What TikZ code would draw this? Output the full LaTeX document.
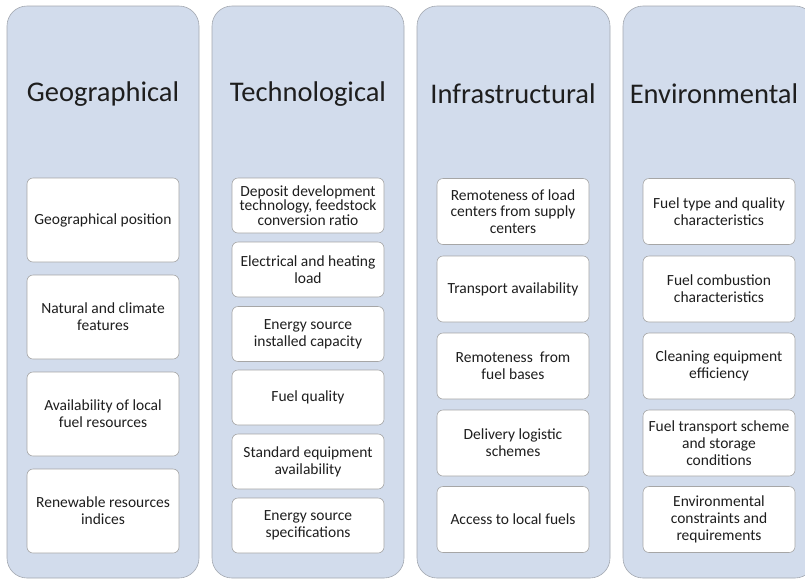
\documentclass[tikz,border=0pt]{standalone}
\usepackage{fontspec}
\setmainfont{Carlito}
\definecolor{colfill}{HTML}{D2DCEC}
\definecolor{colline}{HTML}{A3A8B0}
\definecolor{boxline}{HTML}{A6A6A6}
\definecolor{ink}{HTML}{1E1E1E}
\begin{document}
\begin{tikzpicture}[x=1pt,y=-1pt,
		column/.style={fill=colfill,draw=colline,line width=0.6pt,rounded corners=20pt},
		heading/.style={text=ink,font=\fontsize{28.5}{32}\selectfont},
		factor/.style={draw=boxline,fill=white,line width=0.6pt,rounded corners=6pt,
			text=ink,align=center,minimum width=152pt,inner sep=1pt,
			font=\fontsize{15.5}{16.8}\selectfont},
		tall/.style={factor,minimum height=84pt},
		short/.style={factor,minimum height=55pt},
		mid/.style={factor,minimum height=66pt}]
		\useasboundingbox (0,0) rectangle (805,579);

		\draw[column] (7,6) rectangle (199,578);
		\draw[column] (212,6) rectangle (404,578);
		\draw[column] (417,6) rectangle (610,578);
		\draw[column] (623,6) rectangle (815,578);

		\node[heading] (geo) at (103,94) {Geographical};
		\node[heading] (tech) at (308,94) {Technological};
		\node[heading] (infra) at (513,94) {Infrastructural};
		\node[heading] (env) at (714,94) {Environmental};

		\node[tall] (geo1) at (103,220) {Geographical position};
		\node[tall] (geo2) at (103,317) {Natural and climate\\features};
		\node[tall] (geo3) at (103,414) {Availability of local\\fuel resources};
		\node[tall] (geo4) at (103,511) {Renewable resources\\indices};

		\node[short,font=\fontsize{15.5}{14.3}\selectfont] (tech1) at (308,205.5) {Deposit development\\technology, feedstock\\conversion ratio};
		\node[short] (tech2) at (308,269.5) {Electrical and heating\\load};
		\node[short] (tech3) at (308,334) {Energy source\\installed capacity};
		\node[short] (tech4) at (308,397.5) {Fuel quality};
		\node[short] (tech5) at (308,461.5) {Standard equipment\\availability};
		\node[short] (tech6) at (308,525.5) {Energy source\\specifications};

		\node[mid] (infra1) at (513,211.5) {Remoteness of load\\centers from supply\\centers};
		\node[mid] (infra2) at (513,289) {Transport availability};
		\node[mid] (infra3) at (513,366) {Remoteness\ \ from\\fuel bases};
		\node[mid] (infra4) at (513,443) {Delivery logistic\\schemes};
		\node[mid] (infra5) at (513,519.5) {Access to local fuels};

		\node[mid] (env1) at (719,211.5) {Fuel type and quality\\characteristics};
		\node[mid] (env2) at (719,289) {Fuel combustion\\characteristics};
		\node[mid] (env3) at (719,366) {Cleaning equipment\\efficiency};
		\node[mid] (env4) at (719,443) {Fuel transport scheme\\and storage\\conditions};
		\node[mid] (env5) at (719,519.5) {Environmental\\constraints and\\requirements};
	\end{tikzpicture}
\end{document}
